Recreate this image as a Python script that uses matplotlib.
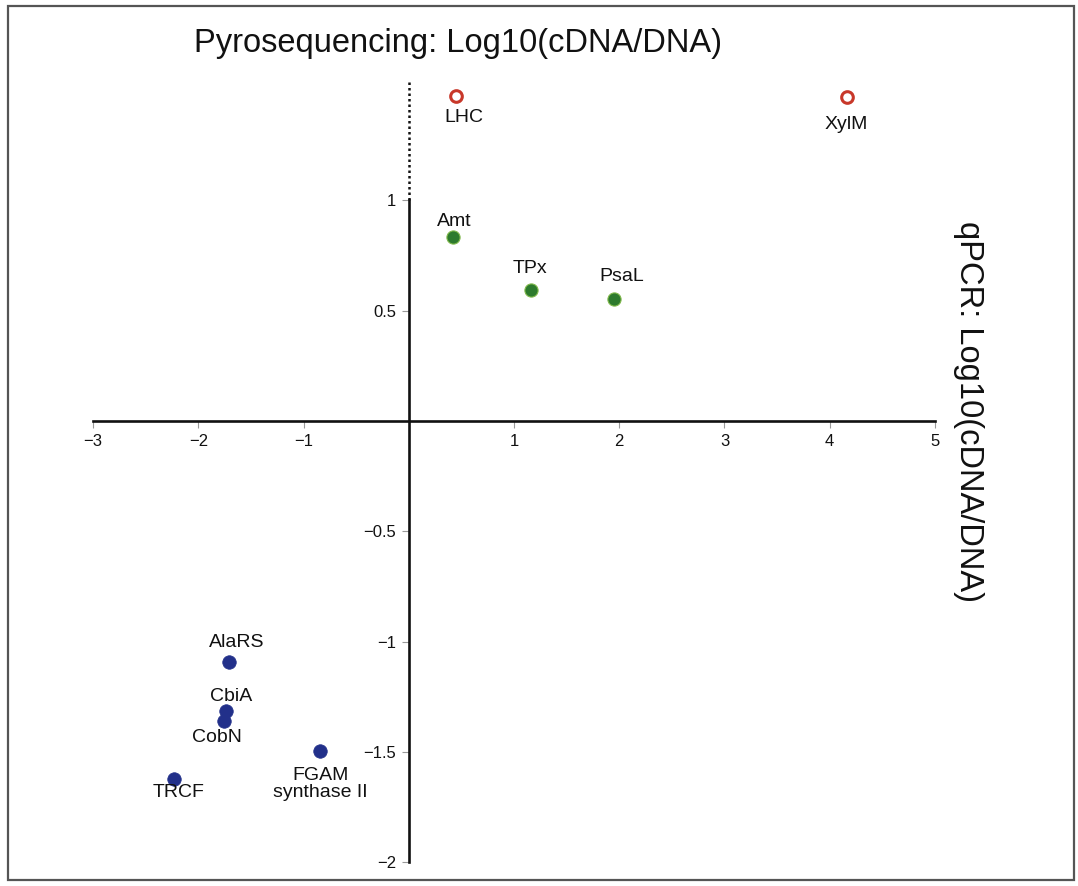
import matplotlib
matplotlib.use('Agg')
import matplotlib.pyplot as plt
from matplotlib.patches import Rectangle

plt.rcParams['font.family'] = ['Liberation Sans', 'DejaVu Sans']

# gene names and their log10(cDNA/DNA) values
genes = ['LHC', 'XylM', 'Amt', 'TPx', 'PsaL', 'AlaRS', 'CbiA', 'CobN', 'TRCF', 'FGAM\nsynthase II']
pyro = [0.45, 4.16, 0.42, 1.16, 1.95, -1.71, -1.735, -1.755, -2.23, -0.84]
qpcr = [1.475, 1.468, 0.834, 0.594, 0.553, -1.092, -1.314, -1.359, -1.622, -1.495]
group = ['off', 'off', 'up', 'up', 'up', 'down', 'down', 'down', 'down', 'down']

# label offsets in pixels (dx, dy)
offsets = {'LHC': (8, -22), 'XylM': (0, -27), 'Amt': (1, 16), 'TPx': (-1, 21),
           'PsaL': (8, 23), 'AlaRS': (8, 20), 'CbiA': (5, 15), 'CobN': (-7, -17),
           'TRCF': (4, -14), 'FGAM\nsynthase II': (0, -33)}

xticks = [-3, -2, -1, 1, 2, 3, 4, 5]
yticks = [-2, -1.5, -1, -0.5, 0.5, 1]

fig = plt.figure(figsize=(10.78, 8.86), dpi=100)
ax = fig.add_axes([0, 0, 1, 1])
ax.set_xlim(-3.884, 6.359)
ax.set_ylim(-2.107, 1.908)

for side in ['top', 'right']:
    ax.spines[side].set_visible(False)
ax.spines['left'].set_position(('data', 0))
ax.spines['bottom'].set_position(('data', 0))
ax.spines['left'].set_bounds(-2, 1)
ax.spines['bottom'].set_bounds(-3, 5)
for side in ['left', 'bottom']:
    ax.spines[side].set_linewidth(1.9)
    ax.spines[side].set_color('#111111')

# dotted part of the vertical axis above 1
ax.plot([0, 0], [1, 1.55], color='#111111', lw=1.8, ls=(0, (1, 1.2)), zorder=1)

ax.set_xticks(xticks)
ax.set_xticklabels([str(t).replace('-', '\u2212') for t in xticks])
ax.set_yticks(yticks)
ax.set_yticklabels([('%g' % t).replace('-', '\u2212') for t in yticks])
ax.tick_params(axis='both', direction='out', length=5, width=0.8, color='#999999',
               labelsize=12, pad=4, labelcolor='#111111')

styles = {
    'off': dict(marker='o', s=70, facecolor='white', edgecolor='#c8382a', linewidth=2.2),
    'up': dict(marker='o', s=90, facecolor='#2d7a2d', edgecolor='#7fb84a', linewidth=0.8),
    'down': dict(marker='o', s=95, facecolor='#22308a', edgecolor='#22308a', linewidth=0.5),
}
for g, st in styles.items():
    xs = [x for x, gg in zip(pyro, group) if gg == g]
    ys = [y for y, gg in zip(qpcr, group) if gg == g]
    ax.scatter(xs, ys, zorder=3, **st)

for name, x, y in zip(genes, pyro, qpcr):
    dx, dy = offsets[name]
    ax.annotate(name, (x, y), xytext=(dx, dy), textcoords='offset pixels',
                ha='center', va='center', fontsize=14, color='#111111',
                linespacing=1.05, zorder=4)

fig.text(0.425, 0.951, 'Pyrosequencing: Log10(cDNA/DNA)', fontsize=23.5,
         ha='center', va='center', color='#111111')
fig.text(0.898, 0.535, 'qPCR: Log10(cDNA/DNA)', fontsize=23.5, rotation=-90,
         ha='center', va='center', color='#111111')

# outer frame
fig.patches.append(Rectangle((8 / 1078, 6 / 886), 1066 / 1078, 874 / 886,
                             transform=fig.transFigure, fill=False,
                             edgecolor='#555555', linewidth=1.6))

fig.savefig('out.png', dpi=100)
